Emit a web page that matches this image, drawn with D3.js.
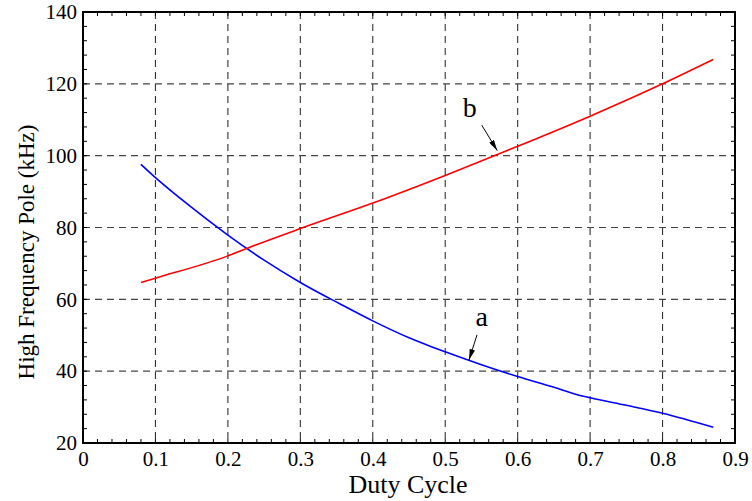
<!DOCTYPE html>
<html><head><meta charset="utf-8">
<script src="https://cdn.jsdelivr.net/npm/d3@7"></script>
<style>body{margin:0;background:#fff}svg{display:block}</style>
</head><body><svg id="c" width="752" height="501"></svg>
<script>
const xTicks = [0,0.1,0.2,0.3,0.4,0.5,0.6,0.7,0.8,0.9];
const yTicks = [20,40,60,80,100,120,140];
const dutyA = [0.08,0.1,0.15,0.2,0.25,0.3,0.355,0.4,0.45,0.48,0.5,0.55,0.6,0.65,0.68,0.7,0.75,0.8,0.87];
const poleA = [97.6,93.9,85.6,77.9,70.9,64.7,58.7,54.0,49.3,46.9,45.4,41.8,38.5,35.5,33.6,32.6,30.5,28.3,24.4];
const dutyB = [0.08,0.1,0.2,0.225,0.3,0.4,0.5,0.6,0.7,0.8,0.87];
const poleB = [64.7,65.9,72.1,74.1,79.7,86.8,94.5,102.6,111.0,120.0,126.8];
const labels = [{t:"b",x:0.534,y:110.9,ax1:0.5504,ay1:108.5,ax2:0.5719,ay2:101.4},
                {t:"a",x:0.5504,y:52.6,ax1:0.5439,ay1:50.1,ax2:0.5328,ay2:43.1}];

const FF = '"Liberation Serif","Times New Roman",Times,serif';
const svg = d3.select("#c");
const M = {l:83,r:735,t:12,b:443};
const x = d3.scaleLinear().domain([0,0.9]).range([M.l,M.r]);
const y = d3.scaleLinear().domain([20,140]).range([M.b,M.t]);

const defs = svg.append("defs");
defs.append("marker").attr("id","arr").attr("viewBox","0 0 12 6").attr("refX",12).attr("refY",3)
 .attr("markerUnits","userSpaceOnUse").attr("markerWidth",11).attr("markerHeight",5.5).attr("orient","auto")
 .append("path").attr("d","M0,0L12,3L0,6Z").attr("fill","#000");

// grid
svg.append("g").selectAll("line").data(xTicks.slice(1,-1)).join("line")
 .attr("x1",d=>x(d)).attr("x2",d=>x(d)).attr("y1",M.t).attr("y2",M.b)
 .attr("stroke","#333").attr("stroke-width",1.1).attr("stroke-dasharray","7,5");
svg.append("g").selectAll("line").data(yTicks.slice(1,-1)).join("line")
 .attr("y1",d=>y(d)).attr("y2",d=>y(d)).attr("x1",M.l).attr("x2",M.r)
 .attr("stroke","#444").attr("stroke-width",1.1).attr("stroke-dasharray","7,5");

// minor ticks
const xMinor = d3.range(0,0.9001,0.02);
const yMinor = d3.range(20,140.001,4);
const tk = svg.append("g").attr("stroke","#000").attr("stroke-width",1);
xMinor.forEach(v=>{
  tk.append("line").attr("x1",x(v)).attr("x2",x(v)).attr("y1",M.b).attr("y2",M.b-4);
  tk.append("line").attr("x1",x(v)).attr("x2",x(v)).attr("y1",M.t).attr("y2",M.t+4);
});
yMinor.forEach(v=>{
  tk.append("line").attr("y1",y(v)).attr("y2",y(v)).attr("x1",M.l).attr("x2",M.l+4);
  tk.append("line").attr("y1",y(v)).attr("y2",y(v)).attr("x1",M.r).attr("x2",M.r-4);
});

// axes labels via d3 axes
const xa = svg.append("g").attr("transform",`translate(0,${M.b})`)
 .call(d3.axisBottom(x).tickValues(xTicks).tickSize(0).tickPadding(8).tickFormat(d=>d===0?"0":d3.format(".1f")(d)));
xa.select(".domain").remove();
xa.selectAll("text").attr("font-size",21).style("font-family",FF).attr("fill","#000");
const ya = svg.append("g").attr("transform",`translate(${M.l},0)`)
 .call(d3.axisLeft(y).tickValues(yTicks).tickSize(0).tickPadding(6));
ya.select(".domain").remove();
ya.selectAll("text").attr("font-size",21).style("font-family",FF).attr("fill","#000");

// frame
svg.append("rect").attr("x",M.l).attr("y",M.t).attr("width",M.r-M.l).attr("height",M.b-M.t)
 .attr("fill","none").attr("stroke","#000").attr("stroke-width",2);

// lines
const line = d3.line().x(d=>x(d[0])).y(d=>y(d[1])).curve(d3.curveMonotoneX);
svg.append("path").datum(dutyA.map((d,i)=>[d,poleA[i]])).attr("d",line)
 .attr("fill","none").attr("stroke","#0000ff").attr("stroke-width",1.6);
svg.append("path").datum(dutyB.map((d,i)=>[d,poleB[i]])).attr("d",line)
 .attr("fill","none").attr("stroke","#ff0000").attr("stroke-width",1.6);

// annotations
labels.forEach(l=>{
  svg.append("text").attr("x",x(l.x)).attr("y",y(l.y)).attr("text-anchor","middle")
   .attr("font-size",28).style("font-family",FF).text(l.t);
  svg.append("line").attr("x1",x(l.ax1)).attr("y1",y(l.ay1)).attr("x2",x(l.ax2)).attr("y2",y(l.ay2))
   .attr("stroke","#000").attr("stroke-width",1).attr("marker-end","url(#arr)");
});

// titles
svg.append("text").attr("x",408).attr("y",493).attr("text-anchor","middle")
 .attr("font-size",26).style("font-family",FF).text("Duty Cycle");
svg.append("text").attr("transform",`translate(34,252) rotate(-90)`).attr("text-anchor","middle")
 .attr("font-size",23).style("font-family",FF).text("High Frequency Pole (kHz)");
</script></body></html>
